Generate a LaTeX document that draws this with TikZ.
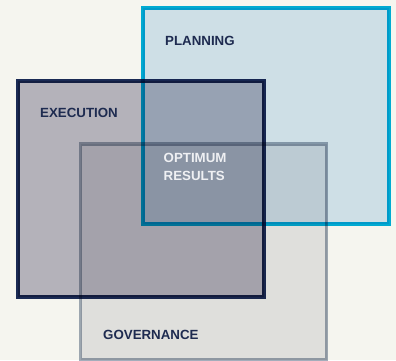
\documentclass[tikz,border=0pt]{standalone}
\usepackage{xcolor}
\usepackage{fontspec}
\setmainfont{Liberation Sans}
\usepackage{tikz}

\definecolor{bgcream}{HTML}{F5F5EF}
\definecolor{navy}{HTML}{1E2B50}
\definecolor{plancyan}{HTML}{00B1E0}
\definecolor{planfill}{HTML}{D7E9F6}
\definecolor{execline}{HTML}{1C2C5A}
\definecolor{execfill}{HTML}{BCBAC7}
\definecolor{govline}{HTML}{A3ADBB}
\definecolor{govfill}{HTML}{E9E9EB}

\tikzstyle{area} = [rectangle, minimum width=246pt, minimum height=216pt, line width=4pt, inner sep=0pt]
\tikzstyle{plan} = [area, draw=plancyan, fill=planfill]
\tikzstyle{exec} = [area, draw=execline, fill=execfill]
\tikzstyle{gov} = [area, draw=govline, fill=govfill, line width=3.6pt]
\tikzstyle{tag} = [anchor=base west, inner sep=0pt, text=navy, font=\fontsize{13.3}{17.3}\selectfont\bfseries]

\begin{document}
\begin{tikzpicture}[x=1pt,y=1pt]

	\fill [bgcream] (0,0) rectangle (396,360);
	\useasboundingbox (0,0) rectangle (396,360);

	\begin{scope}[blend mode=multiply]
		\node (planning) [plan] at (266,243.75) {};
		\node (governance) [gov] at (203.5,108.25) {};
		\node (execution) [exec] at (140.85,171.15) {};
	\end{scope}

	\node (planlabel) [tag] at (165,315) {PLANNING};
	\node (execlabel) [tag] at (40,243) {EXECUTION};
	\node (govlabel) [tag] at (103,21) {GOVERNANCE};
	\node (optimum) [tag, text=white!93!navy, align=left] at (163.5,180) {OPTIMUM\\RESULTS};

\end{tikzpicture}
\end{document}
